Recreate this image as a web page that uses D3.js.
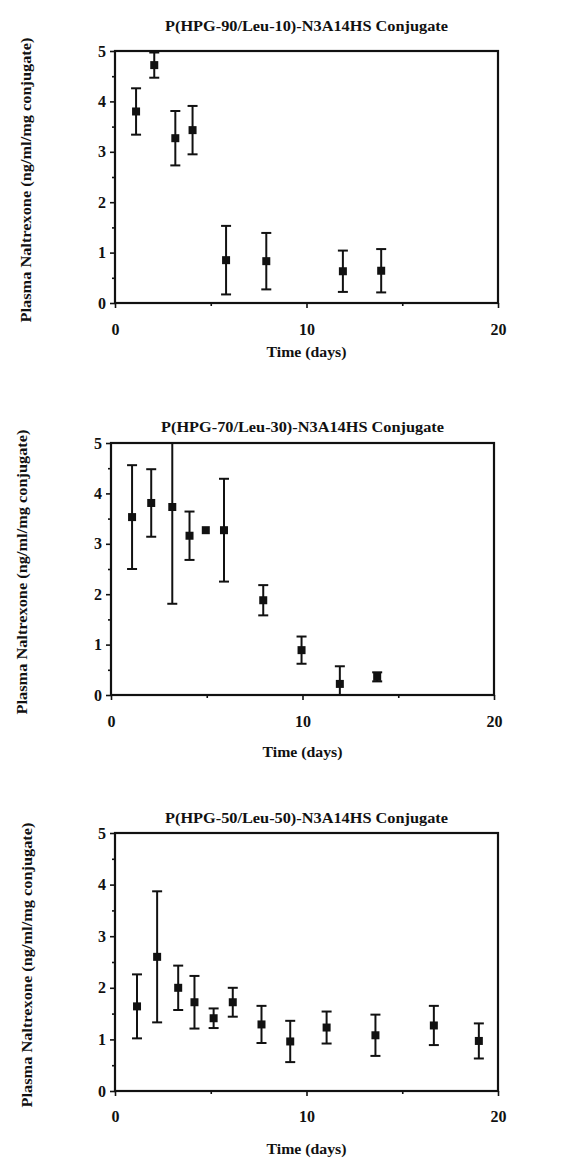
<!DOCTYPE html>
<html>
<head>
<meta charset="utf-8">
<script src="https://cdn.jsdelivr.net/npm/d3@7"></script>
<style>
  html, body { margin: 0; padding: 0; background: #ffffff; }
  svg { display: block; }
  text { font-family: "Liberation Serif", "Times New Roman", serif; fill: #111; }
</style>
</head>
<body>
<svg id="fig" width="573" height="1163"></svg>
<script>
// Plasma naltrexone after dosing with three polymer conjugates
const panelTitles = [
  "P(HPG-90/Leu-10)-N3A14HS Conjugate",
  "P(HPG-70/Leu-30)-N3A14HS Conjugate",
  "P(HPG-50/Leu-50)-N3A14HS Conjugate"
];
const xTitle = "Time (days)";
const yTitle = "Plasma Naltrexone (ng/ml/mg conjugate)";
const xTicks = [0, 10, 20];
const xMinorTicks = [5, 15];
const yTicks = [0, 1, 2, 3, 4, 5];
const yMinorTicks = [0.5, 1.5, 2.5, 3.5, 4.5];

// HPG-90 / Leu-10
const days90 = [1.1, 2.05, 3.15, 4.05, 5.8, 7.9, 11.9, 13.9];
const mean90 = [3.80, 4.72, 3.27, 3.43, 0.85, 0.83, 0.63, 0.64];
const err90  = [0.46, 0.25, 0.54, 0.48, 0.68, 0.56, 0.41, 0.43];

// HPG-70 / Leu-30
const days70 = [1.1, 2.1, 3.2, 4.1, 4.95, 5.9, 7.95, 9.95, 11.95, 13.9];
const mean70 = [3.53, 3.81, 3.73, 3.16, 3.27, 3.27, 1.88, 0.89, 0.22, 0.36];
const err70  = [1.03, 0.67, 1.92, 0.48, 0.00, 1.02, 0.30, 0.27, 0.35, 0.09];

// HPG-50 / Leu-50
const days50 = [1.15, 2.2, 3.3, 4.15, 5.15, 6.15, 7.65, 9.15, 11.05, 13.6, 16.65, 19.0];
const mean50 = [1.64, 2.60, 2.00, 1.72, 1.41, 1.72, 1.29, 0.96, 1.23, 1.08, 1.27, 0.97];
const err50  = [0.62, 1.27, 0.43, 0.51, 0.19, 0.28, 0.36, 0.40, 0.31, 0.40, 0.38, 0.34];

const series = [
  { days: days90, mean: mean90, err: err90 },
  { days: days70, mean: mean70, err: err70 },
  { days: days50, mean: mean50, err: err50 }
];

// plot frames (left, right, top, bottom) and label placement for each panel
const frames = [
  { l: 115, r: 498, t: 51,  b: 303,  titleY: 31,  tickY: 336,  xTitleY: 357,  yTitleX: 31 },
  { l: 111, r: 494, t: 443, b: 695,  titleY: 432, tickY: 728,  xTitleY: 757,  yTitleX: 27 },
  { l: 115, r: 498, t: 833, b: 1091, titleY: 823, tickY: 1123, xTitleY: 1154, yTitleX: 32 }
];

const svg = d3.select("#fig");
const ink = "#111";

frames.forEach((f, i) => {
  const s = series[i];
  const x = d3.scaleLinear().domain([0, 20]).range([f.l, f.r]);
  const y = d3.scaleLinear().domain([0, 5]).range([f.b, f.t]).clamp(true);
  const g = svg.append("g");

  // frame
  g.append("rect")
    .attr("x", f.l).attr("y", f.t)
    .attr("width", f.r - f.l).attr("height", f.b - f.t)
    .attr("fill", "none").attr("stroke", ink).attr("stroke-width", 2.2);

  // y axis with minor ticks
  const yAxis = d3.axisLeft(y).tickValues(yTicks).tickFormat(d3.format("d")).tickSize(5).tickPadding(4);
  const ya = g.append("g").attr("transform", `translate(${f.l},0)`).call(yAxis);
  const yMinor = g.append("g").attr("transform", `translate(${f.l},0)`)
    .call(d3.axisLeft(y).tickValues(yMinorTicks).tickFormat("").tickSize(3));

  // x axis with minor ticks
  const xAxis = d3.axisBottom(x).tickValues(xTicks).tickFormat(d3.format("d")).tickSize(5).tickPadding(f.tickY - f.b - 17);
  const xa = g.append("g").attr("transform", `translate(0,${f.b})`).call(xAxis);
  const xMinor = g.append("g").attr("transform", `translate(0,${f.b})`)
    .call(d3.axisBottom(x).tickValues(xMinorTicks).tickFormat("").tickSize(3));

  [ya, yMinor, xa, xMinor].forEach(a => {
    a.select(".domain").remove();
    a.selectAll("line").attr("stroke", ink).attr("stroke-width", 1.6);
    a.selectAll("text")
      .style("font-family", "'Liberation Serif', serif")
      .style("font-size", "16px").style("font-weight", "bold").attr("fill", ink);
  });

  // panel title
  g.append("text")
    .attr("x", (f.l + f.r) / 2).attr("y", f.titleY)
    .attr("text-anchor", "middle")
    .style("font-size", "15.5px").style("font-weight", "bold")
    .attr("textLength", 283).attr("lengthAdjust", "spacingAndGlyphs")
    .text(panelTitles[i]);

  // axis titles
  g.append("text")
    .attr("x", (f.l + f.r) / 2).attr("y", f.xTitleY)
    .attr("text-anchor", "middle")
    .style("font-size", "15px").style("font-weight", "bold")
    .attr("textLength", 80).attr("lengthAdjust", "spacingAndGlyphs")
    .text(xTitle);

  g.append("text")
    .attr("transform", `translate(${f.yTitleX},${(f.t + f.b) / 2 + 3}) rotate(-90)`)
    .attr("text-anchor", "middle")
    .style("font-size", "15px").style("font-weight", "bold")
    .attr("textLength", 285).attr("lengthAdjust", "spacingAndGlyphs")
    .text(yTitle);

  // error bars
  const pts = s.days.map((d, k) => ({ d, m: s.mean[k], e: s.err[k] }));
  const withErr = pts.filter(p => p.e > 0);
  const cap = 5;
  const eb = g.append("g").attr("stroke", ink).attr("stroke-width", 2);
  eb.selectAll("line.stem").data(withErr).join("line").attr("class", "stem")
    .attr("x1", p => x(p.d)).attr("x2", p => x(p.d))
    .attr("y1", p => y(p.m + p.e)).attr("y2", p => y(p.m - p.e));
  eb.selectAll("line.top").data(withErr.filter(p => p.m + p.e <= 5)).join("line").attr("class", "top")
    .attr("x1", p => x(p.d) - cap).attr("x2", p => x(p.d) + cap)
    .attr("y1", p => y(p.m + p.e)).attr("y2", p => y(p.m + p.e));
  eb.selectAll("line.bot").data(withErr.filter(p => p.m - p.e >= 0)).join("line").attr("class", "bot")
    .attr("x1", p => x(p.d) - cap).attr("x2", p => x(p.d) + cap)
    .attr("y1", p => y(p.m - p.e)).attr("y2", p => y(p.m - p.e));

  // square markers
  const sz = 8;
  g.selectAll("rect.pt").data(pts).join("rect").attr("class", "pt")
    .attr("x", p => x(p.d) - sz / 2).attr("y", p => y(p.m) - sz / 2)
    .attr("width", sz).attr("height", sz)
    .attr("fill", ink);
});
</script>
</body>
</html>
